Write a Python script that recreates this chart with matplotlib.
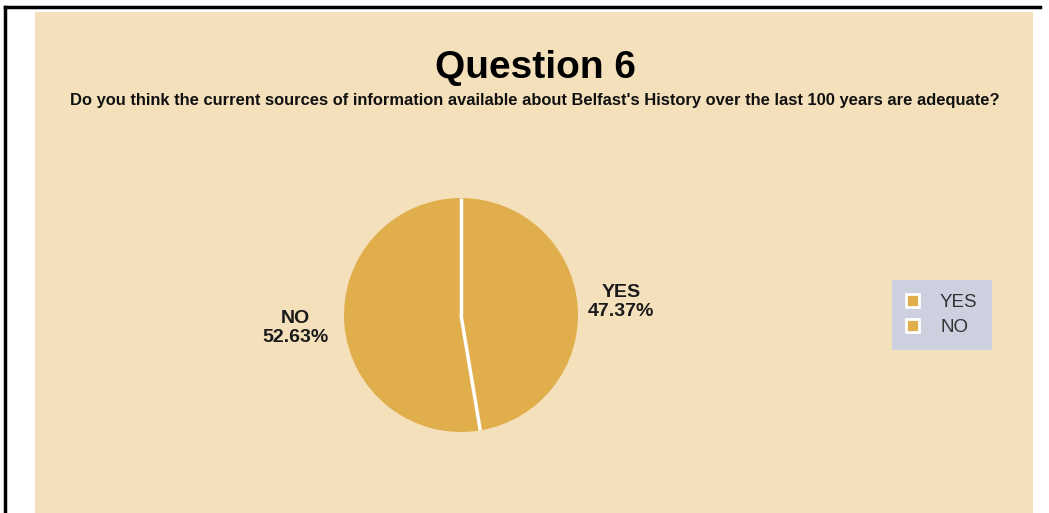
import numpy as np
import matplotlib.pyplot as plt
from matplotlib.patches import Rectangle
from matplotlib.lines import Line2D

plt.rcParams['font.family'] = ['Liberation Sans', 'DejaVu Sans']

# survey answers (counts)
answers = ['YES', 'NO']
counts = [9, 10]
slice_color = '#E0AF4C'
panel_color = '#F4E1BC'

W, H = 1049, 513
fig = plt.figure(figsize=(W / 100, H / 100), dpi=100)
fig.patch.set_facecolor('white')

# beige chart panel and the black frame lines
fig.add_artist(Rectangle((35 / W, 0), (1033 - 35) / W, (H - 12) / H,
                         transform=fig.transFigure, facecolor=panel_color,
                         edgecolor='none', zorder=0))
fig.add_artist(Line2D([5 / W, 5 / W], [0, 1 - 7 / H], transform=fig.transFigure,
                      color='black', lw=2.5))
fig.add_artist(Line2D([5 / W, 1040 / W], [1 - 7 / H, 1 - 7 / H],
                      transform=fig.transFigure, color='black', lw=2.5))

fig.text(535 / W, 1 - 68 / H, 'Question 6', ha='center', va='center',
         fontsize=28, fontweight='bold', color='black')
fig.text(535 / W, 1 - 100 / H,
         "Do you think the current sources of information available about "
         "Belfast's History over the last 100 years are adequate?",
         ha='center', va='center', fontsize=11.9, fontweight='bold', color='#111111')

cx, cy, r = 461, 315, 117
ax = fig.add_axes([(cx - r) / W, (H - cy - r) / H, 2 * r / W, 2 * r / H])
ax.set_facecolor('none')

total = sum(counts)
labels = ['%s\n%.2f%%' % (a, 100 * c / total) for a, c in zip(answers, counts)]
wedges, texts = ax.pie(counts, labels=labels, colors=[slice_color] * 2,
                       startangle=90, counterclock=False, labeldistance=1.37,
                       wedgeprops=dict(edgecolor='none'),
                       textprops=dict(fontsize=14, fontweight='bold',
                                      color='#1a1a1a', linespacing=1.12))
for t in texts:
    t.set_ha('center')
    t.set_va('center')
# NO label sits a bit further out in the original
x, y = texts[1].get_position()
texts[1].set_position((x - 0.05, y))
# white separators between slices only (no outer ring)
for w in wedges:
    a = np.deg2rad(w.theta1)
    ax.plot([0, np.cos(a)], [0, np.sin(a)], color='white', lw=2.5,
            solid_capstyle='butt')
ax.set_xlim(-1, 1)
ax.set_ylim(-1, 1)

handles = [Rectangle((0, 0), 1, 1, facecolor=slice_color, edgecolor='white', lw=2)
           for _ in answers]
leg = fig.legend(handles, answers, loc='center', bbox_to_anchor=(942 / W, 1 - 315 / H),
                 frameon=True, fancybox=False, fontsize=13.5, handlelength=0.7,
                 handleheight=0.7, handletextpad=1.1, borderpad=0.75,
                 labelspacing=0.45, borderaxespad=0)
leg.get_frame().set_facecolor('#CDD1DF')
leg.get_frame().set_edgecolor('none')
leg.get_frame().set_alpha(1)
for t in leg.get_texts():
    t.set_color('#333333')

fig.savefig('out.png', dpi=100)
